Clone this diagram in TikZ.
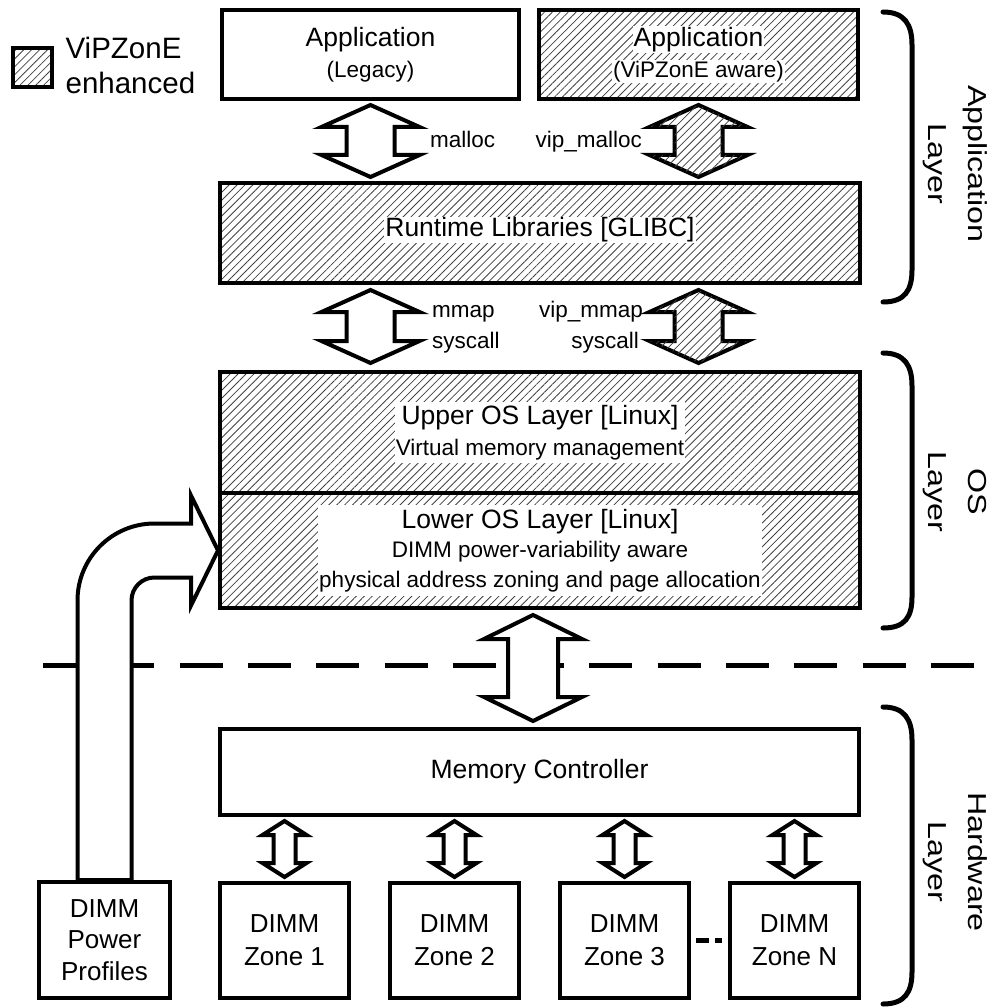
\documentclass[tikz,border=0pt]{standalone}
\usepackage{fontspec}
\setmainfont{Liberation Sans}
\usepackage{graphicx}
\usetikzlibrary{calc,patterns.meta}

\newcommand{\bigfont}{\fontsize{26.5}{31}\selectfont}
\newcommand{\wbox}[1]{{\setlength{\fboxsep}{1pt}\colorbox{white}{#1}}}
\newcommand{\stretched}[1]{\scalebox{1.24}[1]{#1}}
% vertical block arrow with two heads: [style]{top}{bottom}{half shaft}{half head}{head length}
\newcommand{\busarrow}[6][]{%
  \draw[bus,#1] let \p1=(#2), \p2=(#3) in
    (\x1,\y1) -- (\x1+#5,\y1-#6) -- (\x1+#4,\y1-#6) -- (\x1+#4,\y2+#6)
    -- (\x1+#5,\y2+#6) -- (\x1,\y2) -- (\x1-#5,\y2+#6) -- (\x1-#4,\y2+#6)
    -- (\x1-#4,\y1-#6) -- (\x1-#5,\y1-#6) -- cycle;}

\begin{document}
\begin{tikzpicture}[
    x=1pt, y=-1pt,
    blk/.style={draw, line width=4pt, inner sep=0pt, align=center},
    hatched/.style={pattern={Lines[angle=45,distance=5.6pt,line width=0.8pt]}, pattern color=black!75},
    bigtxt/.style={font=\bigfont},
    smalltxt/.style={font=\fontsize{22.5}{31}\selectfont},
    wlabel/.style={fill=white, inner sep=1pt, align=center},
    bus/.style={draw, line width=4pt, fill=white},
    hbus/.style={postaction={hatched}},
    brace/.style={line width=5pt, line cap=round},
    layerlbl/.style={rotate=-90, align=center, inner sep=0pt, font=\fontsize{26}{40}\selectfont},
    sep/.style={line width=5pt, dash pattern=on 43pt off 25.3pt},
    dots/.style={line width=5pt, dash pattern=on 13pt off 6pt, shorten <=5pt, shorten >=6pt}
]
\path[use as bounding box] (0,0) rectangle (998,1008);

% Legend
\node[blk, hatched, minimum size=39pt] (lg) at (32.5,67.5) {};
\node[anchor=west, inner sep=0pt, align=left, font=\fontsize{29.5}{35}\selectfont] (lgt) at ([xshift=13pt,yshift=2.5pt]lg.east) {ViPZonE\\enhanced};

% Application layer
\node[blk, smalltxt, minimum width=297pt, minimum height=89pt] (appl) at (370.5,54.5) {{\bigfont Application}\\(Legacy)};
\node[blk, hatched, minimum width=319pt, minimum height=89pt] (appv) at (698.5,54.5) {};
\node[smalltxt, align=center, inner sep=0pt] (appvt) at (appv) {\wbox{\bigfont Application}\\\wbox{(ViPZonE aware)}};
\node[blk, hatched, minimum width=640pt, minimum height=100pt] (rt) at (540,233) {};
\node[wlabel, bigtxt] (rtt) at ([yshift=3pt]rt) {Runtime Libraries [GLIBC]};

% OS layer
\node[blk, hatched, minimum width=640pt, minimum height=121pt] (uos) at (540,432.5) {};
\node[blk, hatched, minimum width=640pt, minimum height=115pt] (los) at (540,550.5) {};
\node[wlabel, smalltxt, inner ysep=3pt] (uost) at (uos) {{\bigfont Upper OS Layer [Linux]}\\Virtual memory management};
\node[wlabel, font=\fontsize{22.5}{29.5}\selectfont, inner ysep=4pt] (lost) at (los) {{\bigfont Lower OS Layer [Linux]}\\DIMM power-variability aware\\physical address zoning and page allocation};

% Hardware layer
\node[blk, bigtxt, minimum width=639pt, minimum height=86pt] (mc) at (539.5,772) {Memory Controller};
\foreach \i/\x in {1/284.5, 2/454.5, 3/624.5, N/794.5}
    \node[blk, font=\fontsize{26}{33}\selectfont, minimum width=129pt, minimum height=115pt] (z\i) at (\x,940.5) {DIMM\\Zone \i};
\node[blk, font=\fontsize{26}{31.5}\selectfont, minimum width=131pt, minimum height=116pt] (pp) at (104.5,940) {DIMM\\Power\\Profiles};
\draw[dots] (z3) -- (zN);

% Boundary between software and hardware
\draw[sep] (43,665) -- (975,665);

% Interface arrows
\busarrow{$(appl.south)+(0,4)$}{$(rt.north -| appl.south)+(0,-4)$}{24pt}{49pt}{22pt}
\busarrow[hbus]{$(appv.south)+(0,4)$}{$(rt.north -| appv.south)+(0,-4)$}{24pt}{49pt}{22pt}
\busarrow{$(rt.south -| appl.south)+(0,5)$}{$(uos.north -| appl.south)+(0,-7)$}{24pt}{49pt}{22pt}
\busarrow[hbus]{$(rt.south -| appv.south)+(0,5)$}{$(uos.north -| appv.south)+(0,-7)$}{24pt}{49pt}{22pt}
\busarrow{$(los.south)+(-7,5)$}{$(mc.north)+(-7,-6)$}{25pt}{49pt}{24pt}
\foreach \i in {1,2,3,N}{
    \busarrow{$(mc.south -| z\i.north)+(0,4)$}{$(z\i.north)+(0,-4)$}{11pt}{22pt}{14pt}
}

% Power profiles feed into the lower OS layer
\coordinate (po) at ([xshift=-27pt]pp.north);
\coordinate (pi) at ([xshift=27pt]pp.north);
\draw[bus] (po) -- ($(po |- los.west)+(0,50)$) arc[start angle=180, end angle=90, radius=77pt]
    -- ($(los.west)+(-27,-27)$) -- ($(los.west)+(-27,-55)$) -- (los.west)
    -- ($(los.west)+(-27,55)$) -- ($(los.west)+(-27,27)$)
    -- ($(pi |- los.west)+(23,27)$) arc[start angle=90, end angle=180, radius=23pt]
    -- (pi) -- cycle;

% Call labels
\node[smalltxt, anchor=base west, inner sep=0pt] (lmalloc) at (430,148) {malloc};
\node[smalltxt, anchor=base east, inner sep=0pt] (lvmalloc) at (642,148) {vip\_malloc};
\node[smalltxt, anchor=base west, inner sep=0pt] (lmmap) at (432,317) {mmap};
\node[smalltxt, anchor=base west, inner sep=0pt] (lsys) at (432,348) {syscall};
\node[smalltxt, anchor=base east, inner sep=0pt] (lvmmap) at (643,317) {vip\_mmap};
\node[smalltxt, anchor=base east, inner sep=0pt] (lvsys) at (639,348) {syscall};

% Layer braces
\draw[brace] (883,12) .. controls (905,12) and (912,25) .. (912,45) -- (912,270) .. controls (912,290) and (905,302) .. (883,302);
\draw[brace] (883,353) .. controls (905,353) and (912,366) .. (912,386) -- (912,597) .. controls (912,617) and (905,628) .. (883,628);
\draw[brace] (883,707) .. controls (905,707) and (912,720) .. (912,740) -- (912,972) .. controls (912,992) and (905,1004) .. (883,1004);
\node[layerlbl] (lyapp) at (955,164) {\stretched{Application}\\\stretched{Layer}};
\node[layerlbl] (lyos) at (955,492) {\stretched{OS}\\\stretched{Layer}};
\node[layerlbl] (lyhw) at (955,862) {\stretched{Hardware}\\\stretched{Layer}};

\end{tikzpicture}
\end{document}
